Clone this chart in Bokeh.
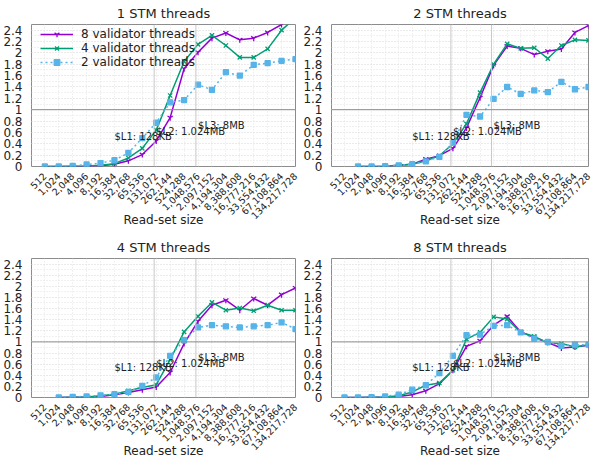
import math
import numpy as np
from bokeh.plotting import figure
from bokeh.layouts import column, row
from bokeh.models import (Range1d, FixedTicker, NumeralTickFormatter, Span, Label, Legend)
from bokeh.embed import file_html
from bokeh.resources import INLINE

nan = float("nan")

# Read-set sizes (x categories)
sizes = [2 ** k for k in range(9, 28)]

titles = ["1 STM threads", "2 STM threads", "4 STM threads", "8 STM threads"]
series_labels = ["8 validator threads", "4 validator threads", "2 validator threads"]

# 1 STM thread
t1_v8 = [0, 0, 0, 0.005, 0.015, 0.04, 0.10, 0.21, 0.45, 0.86, 1.72, 2.01, 2.26, 2.35, 2.23, 2.26, 2.36, 2.50, 2.70]
t1_v4 = [0, 0, 0.005, 0.01, 0.02, 0.05, 0.15, 0.32, 0.64, 1.25, 1.85, 2.15, 2.31, 2.13, 1.92, 1.92, 2.07, 2.40, 2.62]
t1_v2 = [0, 0, 0.01, 0.035, 0.06, 0.11, 0.24, 0.50, 0.77, 1.13, 1.17, 1.44, 1.35, 1.66, 1.60, 1.79, 1.82, 1.86, 1.89]

# 2 STM threads
t2_v8 = [nan, 0, 0, 0.005, 0.02, 0.04, 0.13, 0.19, 0.32, 0.68, 1.21, 1.78, 2.12, 2.08, 1.97, 2.03, 2.07, 2.36, 2.48]
t2_v4 = [nan, 0, 0, 0.005, 0.02, 0.04, 0.10, 0.19, 0.40, 0.75, 1.30, 1.80, 2.16, 2.08, 2.09, 1.90, 2.13, 2.23, 2.22]
t2_v2 = [nan, 0, 0, 0.005, 0.02, 0.04, 0.09, 0.17, 0.42, 0.91, 0.88, 1.19, 1.40, 1.28, 1.34, 1.31, 1.49, 1.36, 1.40]

# 4 STM threads
t4_v8 = [nan, 0, 0.005, 0.01, 0.02, 0.05, 0.09, 0.14, 0.19, 0.45, 0.97, 1.37, 1.66, 1.75, 1.57, 1.78, 1.66, 1.85, 1.97]
t4_v4 = [nan, 0, 0.005, 0.01, 0.03, 0.06, 0.12, 0.18, 0.23, 0.68, 1.18, 1.46, 1.71, 1.57, 1.61, 1.56, 1.66, 1.57, 1.57]
t4_v2 = [nan, 0, 0.01, 0.02, 0.04, 0.06, 0.10, 0.21, 0.36, 0.75, 1.03, 1.26, 1.30, 1.28, 1.26, 1.28, 1.30, 1.35, 1.23]

# 8 STM threads
t8_v8 = [0, 0, 0.005, 0.01, 0.02, 0.05, 0.12, 0.25, 0.49, 0.92, 1.02, 1.30, 1.46, 1.18, 1.08, 0.99, 0.89, 0.91, 0.94]
t8_v4 = [0, 0, 0.005, 0.01, 0.03, 0.10, 0.22, 0.26, 0.49, 1.05, 1.17, 1.45, 1.41, 1.17, 1.10, 0.98, 0.97, 0.91, 0.95]
t8_v2 = [0, 0, 0.005, 0.02, 0.05, 0.14, 0.22, 0.44, 0.75, 1.12, 1.13, 1.29, 1.30, 1.17, 1.06, 1.00, 0.93, 0.95, 0.95]

panels = [
    (t1_v8, t1_v4, t1_v2),
    (t2_v8, t2_v4, t2_v2),
    (t4_v8, t4_v4, t4_v2),
    (t8_v8, t8_v4, t8_v2),
]

# cache annotations
cache_texts = ["$L1: 128KB", "$L2: 1.024MB", "$L3: 8MB"]
cache_text_x = [16384, 131072, 1048576]
cache_text_y = [0.535, 0.61, 0.715]
cache_lines = [118000, 944000]

y_ticks = [round(0.2 * k, 1) for k in range(13)]
y_minor = [round(0.1 * k, 1) for k in range(26)]

colors = ["#9400d3", "#009e73", "#56b4e9"]
markers = ["y", "x", "square"]
dashes = ["solid", "solid", "2 3"]
FONT = "DejaVu Sans"


def make_panel(idx, data, width, height, left, right, top, bottom, legend=False):
    p = figure(width=width, height=height, output_backend="svg", toolbar_location=None,
               x_axis_type="log", x_range=Range1d(2 ** 8.043, 2 ** 27), y_range=Range1d(0, 2.5),
               min_border_left=left, min_border_right=right, min_border_top=top,
               min_border_bottom=bottom, title=titles[idx])
    p.title.align = "center"
    p.title.text_font = FONT
    p.title.text_font_size = "13px"
    p.title.text_font_style = "normal"
    p.title.text_color = "#222222"
    p.title.standoff = 7
    p.outline_line_color = "#8c8c8c"
    p.outline_line_width = 1
    p.background_fill_color = "white"
    p.border_fill_color = "white"

    xa = p.xaxis[0]
    xa.ticker = FixedTicker(ticks=sizes, minor_ticks=[])
    xa.formatter = NumeralTickFormatter(format="0,0")
    xa.major_label_orientation = math.pi / 4
    xa.major_label_text_font = FONT
    xa.major_label_text_font_size = "9.5px"
    xa.major_label_text_color = "#222222"
    xa.major_label_standoff = 2
    xa.axis_line_color = None
    xa.major_tick_line_color = None
    xa.minor_tick_line_color = None
    xa.axis_label = "Read-set size"
    xa.axis_label_text_font = FONT
    xa.axis_label_text_font_size = "12px"
    xa.axis_label_text_font_style = "normal"
    xa.axis_label_text_color = "#222222"
    xa.axis_label_standoff = -12

    ya = p.yaxis[0]
    ya.ticker = FixedTicker(ticks=y_ticks, minor_ticks=y_minor)
    ya.major_label_overrides = {t: f"{t:g}" for t in y_ticks}
    ya.major_label_text_font = FONT
    ya.major_label_text_font_size = "12px"
    ya.major_label_text_color = "#222222"
    ya.major_label_standoff = 3
    ya.axis_line_color = None
    ya.major_tick_line_color = None
    ya.minor_tick_line_color = None

    p.xgrid.grid_line_color = "#e2e2e2"
    p.xgrid.grid_line_dash = "1 2"
    p.ygrid.grid_line_color = "#e2e2e2"
    p.ygrid.grid_line_dash = "1 2"
    p.ygrid.minor_grid_line_color = "#e2e2e2"
    p.ygrid.minor_grid_line_dash = "1 2"

    for loc in cache_lines:
        p.add_layout(Span(location=loc, dimension="height", line_color="#c8c8c8", line_width=1))
    p.add_layout(Span(location=1, dimension="width", line_color="#8c8c8c", line_width=1))

    items = []
    for k in range(3):
        ys = np.array(data[k], dtype=float)
        r1 = p.line(sizes, ys, line_color=colors[k], line_width=1.5, line_dash=dashes[k])
        r2 = p.scatter(sizes, ys, marker=markers[k], size=6 if k < 2 else 5,
                       line_color=colors[k], fill_color=colors[k], line_width=1.3)
        items.append((series_labels[k], [r1, r2]))

    for t, tx, ty in zip(cache_texts, cache_text_x, cache_text_y):
        p.add_layout(Label(x=tx, y=ty, text=t, text_baseline="middle", text_align="left",
                           text_font=FONT, text_font_size="10px", text_color="#222222"))

    if legend:
        lg = Legend(items=items, location=(9, 97), background_fill_alpha=0,
                    border_line_color=None, margin=0, padding=2, spacing=0,
                    label_text_font=FONT, label_text_font_size="12px", label_text_color="#222222",
                    glyph_width=33, glyph_height=14, label_height=14, label_standoff=8)
        p.add_layout(lg)
    return p


p1 = make_panel(0, panels[0], 300, 230, 29, 5, 23, 64, legend=True)
p2 = make_panel(1, panels[1], 292, 230, 27, 4, 23, 64)
p3 = make_panel(2, panels[2], 300, 231, 28, 5, 28, 60)
p4 = make_panel(3, panels[3], 292, 231, 27, 4, 28, 60)

layout = column(row(p1, p2), row(p3, p4))
open("out.html", "w").write(file_html(layout, INLINE))
